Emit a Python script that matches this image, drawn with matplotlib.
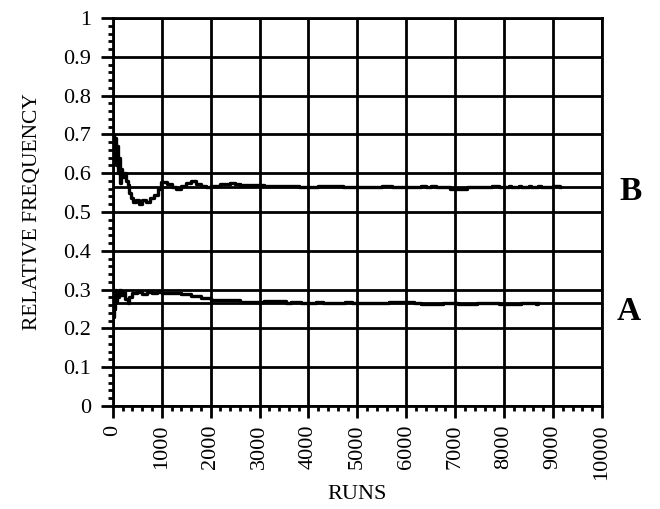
import numpy as np
import matplotlib.pyplot as plt
from matplotlib.ticker import MultipleLocator

# relative frequency of outcome B vs number of runs
runs_b = [0, 20, 40, 60, 80, 100, 120, 140, 160, 190, 230, 270, 300, 340, 380,
          420, 480, 540, 600, 680, 760, 840, 920, 980, 1100, 1200, 1300, 1400,
          1500, 1600, 1700, 1800, 1900, 2000, 2200, 2400, 2500, 2600, 3100,
          3600, 3800, 4200, 4700, 5500, 5700, 6300, 6400, 6500, 6600, 6900,
          7250, 7750, 7900, 8100, 8150, 8300, 8350, 8500, 8550, 8700, 8750,
          9000, 9150]
freq_b = [0.70, 0.64, 0.69, 0.62, 0.67, 0.60, 0.64, 0.575, 0.61, 0.59, 0.60,
          0.58, 0.57, 0.55, 0.535, 0.525, 0.53, 0.52, 0.53, 0.525, 0.535,
          0.545, 0.56, 0.578, 0.572, 0.565, 0.56, 0.568, 0.575, 0.58, 0.572,
          0.566, 0.565, 0.567, 0.572, 0.576, 0.572, 0.570, 0.566, 0.568,
          0.564, 0.568, 0.564, 0.568, 0.564, 0.568, 0.564, 0.568, 0.564,
          0.560, 0.564, 0.568, 0.564, 0.567, 0.564, 0.567, 0.564, 0.567,
          0.564, 0.567, 0.564, 0.568, 0.564]

# relative frequency of outcome A vs number of runs
runs_a = [0, 15, 30, 45, 60, 80, 100, 130, 160, 200, 250, 300, 340, 400, 500,
          600, 700, 800, 900, 1000, 1200, 1400, 1600, 1800, 2000, 2300, 2600,
          3000, 3100, 3550, 3650, 3850, 4150, 4300, 4750, 4900, 5650, 6150,
          6300, 6750, 7050, 7450, 7900, 8350, 8650, 8700]
freq_a = [0.23, 0.29, 0.25, 0.30, 0.27, 0.295, 0.28, 0.30, 0.285, 0.295,
          0.275, 0.265, 0.28, 0.29, 0.295, 0.288, 0.295, 0.29, 0.293, 0.29,
          0.292, 0.288, 0.284, 0.278, 0.274, 0.272, 0.269, 0.268, 0.270,
          0.266, 0.268, 0.265, 0.268, 0.265, 0.267, 0.265, 0.267, 0.265,
          0.262, 0.265, 0.262, 0.265, 0.262, 0.265, 0.262, 0.265]

# limiting probabilities
p_b = 0.564
p_a = 0.265

plt.rcParams['font.family'] = ['Liberation Serif', 'DejaVu Serif']

fig = plt.figure(figsize=(6.6, 5.09), dpi=100)
ax = fig.add_axes([0.171, 0.2024, 0.741, 0.7622])

ax.set_xlim(0, 10000)
ax.set_ylim(0, 1)

ax.xaxis.set_major_locator(MultipleLocator(1000))
ax.xaxis.set_minor_locator(MultipleLocator(200))
ax.yaxis.set_major_locator(MultipleLocator(0.1))
ax.yaxis.set_minor_locator(MultipleLocator(0.02))

ax.grid(True, which='major', color='black', linewidth=2.0)
ax.set_axisbelow(True)

ax.axhline(p_b, color='black', linewidth=2.0)
ax.axhline(p_a, color='black', linewidth=2.0)

ax.plot(runs_b, freq_b, color='black', linewidth=2.4, drawstyle='steps-post')
ax.plot(runs_a, freq_a, color='black', linewidth=2.4, drawstyle='steps-post')

for sp in ax.spines.values():
    sp.set_linewidth(2.0)

ax.tick_params(which='major', direction='out', length=8.5, width=2.0, labelsize=16, pad=5)
ax.tick_params(which='minor', direction='out', length=3.6, width=2.0)
ax.tick_params(axis='x', labelrotation=90)
ax.tick_params(axis='y', pad=7)

ax.set_yticks(np.arange(0, 1.01, 0.1))
ax.set_yticklabels(['0', '0.1', '0.2', '0.3', '0.4', '0.5', '0.6', '0.7', '0.8', '0.9', '1'])

ax.set_xlabel('RUNS', fontsize=16, va='center')
ax.xaxis.set_label_coords(0.5, -0.229)
ax.set_ylabel('RELATIVE FREQUENCY', fontsize=15.5, va='center')
ax.yaxis.set_label_coords(-0.165, 0.5)

ax.text(1.035, 0.554, 'B', transform=ax.get_yaxis_transform(), fontsize=24,
        fontweight='bold', va='center', ha='left')
ax.text(1.030, 0.243, 'A', transform=ax.get_yaxis_transform(), fontsize=24,
        fontweight='bold', va='center', ha='left')

plt.savefig('out.png', dpi=100)
